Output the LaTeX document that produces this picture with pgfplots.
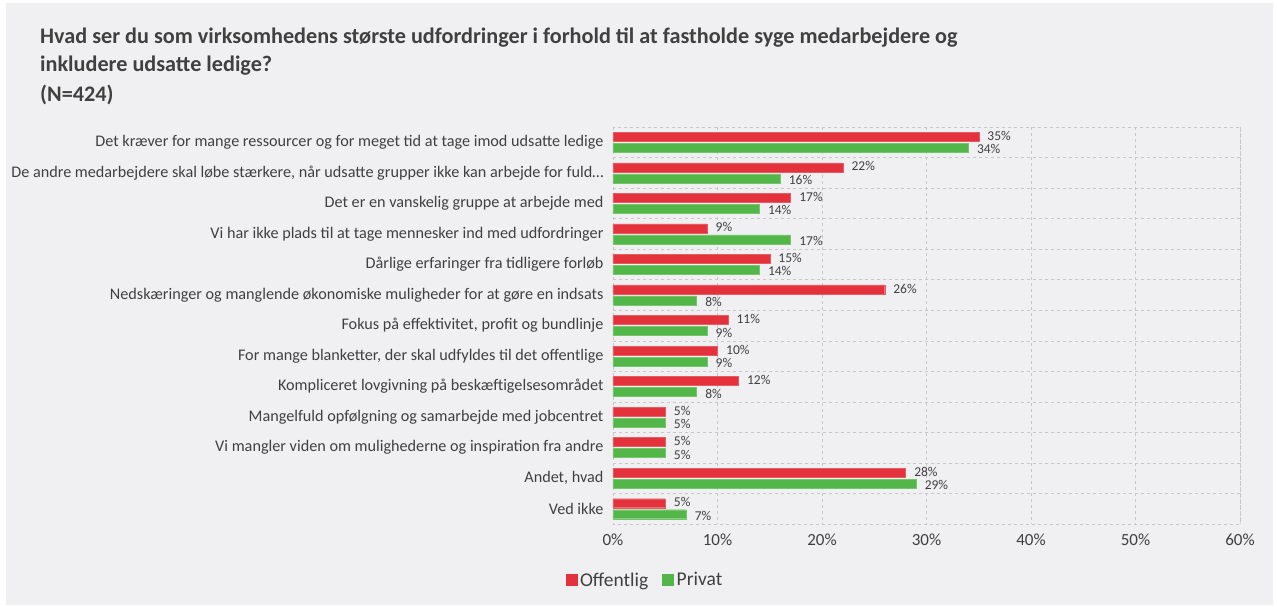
\documentclass[border=0pt]{standalone}
\usepackage{pgfplots}
\pgfplotsset{compat=1.18}
\usepackage{fontspec}
\setmainfont{Carlito}
\definecolor{bg}{RGB}{240,240,242}
\definecolor{red1}{RGB}{228,50,60}
\definecolor{green1}{RGB}{82,182,72}
\definecolor{txt}{RGB}{64,64,64}
\definecolor{gridc}{RGB}{200,200,202}
\begin{document}
\begin{tikzpicture}[x=1pt,y=1pt]
\fill[white] (0,0) rectangle (1277,607);
\fill[bg] (6,2) rectangle (1273,604);
\node[anchor=base west, font=\fontsize{22.2}{26}\selectfont\bfseries, text=txt, inner sep=0] at (40,563) {Hvad ser du som virksomhedens største udfordringer i forhold til at fastholde syge medarbejdere og};
\node[anchor=base west, font=\fontsize{22.2}{26}\selectfont\bfseries, text=txt, inner sep=0] at (40,535) {inkludere udsatte ledige?};
\node[anchor=base west, font=\fontsize{22.2}{26}\selectfont\bfseries, text=txt, inner sep=0] at (40,505) {(N=424)};
\begin{axis}[
  at={(613pt,83pt)}, anchor=south west,
  scale only axis, width=627pt, height=397pt,
  xbar, bar width=9pt,
  xmin=0, xmax=60, ymin=-0.5, ymax=12.5, y dir=reverse,
  xtick={0,10,...,60},
  xticklabel={\pgfmathprintnumber[assume math mode=true]{\tick}\%},
  ytick={0,...,12},
  yticklabels={
    Det kræver for mange ressourcer og for meget tid at tage imod udsatte ledige,
    {De andre medarbejdere skal løbe stærkere, når udsatte grupper ikke kan arbejde for fuld…},
    Det er en vanskelig gruppe at arbejde med,
    Vi har ikke plads til at tage mennesker ind med udfordringer,
    Dårlige erfaringer fra tidligere forløb,
    Nedskæringer og manglende økonomiske muligheder for at gøre en indsats,
    {Fokus på effektivitet, profit og bundlinje},
    {For mange blanketter, der skal udfyldes til det offentlige},
    Kompliceret lovgivning på beskæftigelsesområdet,
    Mangelfuld opfølgning og samarbejde med jobcentret,
    Vi mangler viden om mulighederne og inspiration fra andre,
    {Andet, hvad},
    Ved ikke},
  minor ytick={0.5,1.5,...,11.5},
  xmajorgrids, yminorgrids,
  major grid style={gridc, dashed},
  minor grid style={gridc, dashed},
  axis line style={gridc, dashed},
  major tick length=0pt, minor tick length=0pt,
  tick label style={text=txt},
  yticklabel style={font=\fontsize{16.2}{18}\selectfont, xshift=-6pt},
  xticklabel style={font=\fontsize{17}{19}\selectfont, yshift=-6pt},
  point meta=x,
  nodes near coords={\pgfmathprintnumber[assume math mode=true]{\pgfplotspointmeta}\%},
  nodes near coords style={font=\fontsize{13.5}{14}\selectfont, text=txt, anchor=west, inner sep=0.5pt, xshift=8pt},
  legend style={at={(0.051,-0.141)}, anchor=center, draw=none, fill=none,
    font=\fontsize{19.5}{21}\selectfont, text=txt,
    /tikz/every odd column/.append style={column sep=1pt},
    /tikz/every even column/.append style={column sep=12pt}},
  legend columns=2,
]
\addplot[fill=red1, draw=red1!80!white, bar shift=5.5pt,
  nodes near coords style={yshift=1pt},
  legend image code/.code={\fill[red1] (0pt,-5pt) rectangle (11pt,6pt);}]
  coordinates {(35,0) (22,1) (17,2) (9,3) (15,4) (26,5) (11,6) (10,7) (12,8) (5,9) (5,10) (28,11) (5,12)};
\addplot[fill=green1, draw=green1!80!white, bar shift=-5.5pt,
  nodes near coords style={yshift=-1.5pt},
  legend image code/.code={\fill[green1] (0pt,-5pt) rectangle (11pt,6pt);}]
  coordinates {(34,0) (16,1) (14,2) (17,3) (14,4) (8,5) (9,6) (9,7) (8,8) (5,9) (5,10) (29,11) (7,12)};
\legend{Offentlig,Privat}
\end{axis}
\end{tikzpicture}
\end{document}
